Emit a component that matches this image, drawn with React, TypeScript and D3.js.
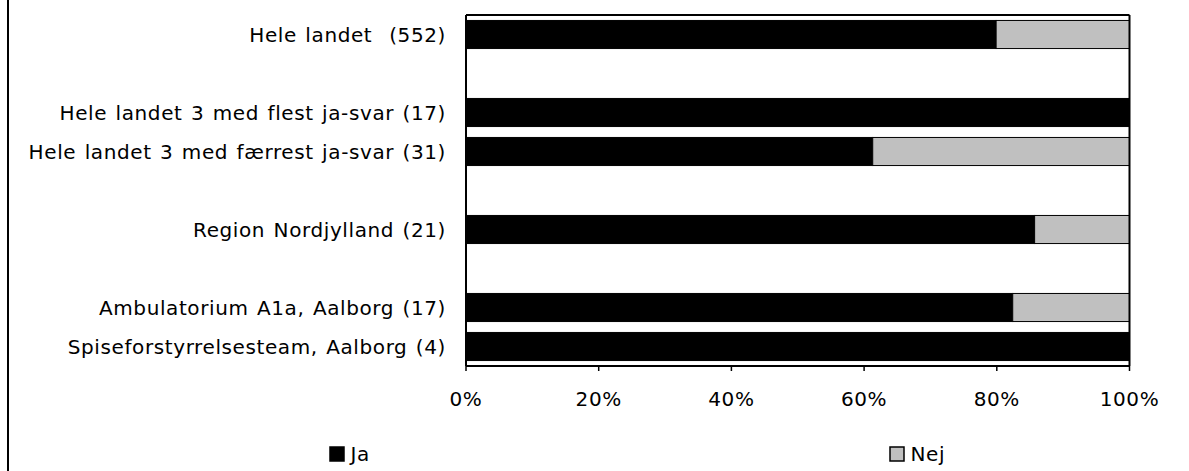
import React from "react";
import * as d3 from "d3";

const categories = [
  "Hele landet  (552)",
  "",
  "Hele landet 3 med flest ja-svar (17)",
  "Hele landet 3 med færrest ja-svar (31)",
  "",
  "Region Nordjylland (21)",
  "",
  "Ambulatorium A1a, Aalborg (17)",
  "Spiseforstyrrelsesteam, Aalborg (4)",
];
const jaValues: (number | null)[] = [0.799, null, 1.0, 0.613, null, 0.857, null, 0.824, 1.0];
const nejValues: (number | null)[] = [0.201, null, 0.0, 0.387, null, 0.143, null, 0.176, 0.0];
const ticks = [0, 0.2, 0.4, 0.6, 0.8, 1.0];
const tickLabels = ["0%", "20%", "40%", "60%", "80%", "100%"];
const seriesNames = ["Ja", "Nej"];
const seriesColors = ["#000000", "#C0C0C0"];

const W = 1189;
const H = 471;
const font = "'DejaVu Sans', Verdana, sans-serif";
const FS = 20;
const textStyle: React.CSSProperties = { whiteSpace: "pre", letterSpacing: "0.6px", wordSpacing: "1.5px" };

export default function App() {
  const left = 466;
  const right = 1129.5;
  const top = 15;
  const bottom = 366;
  const x = d3.scaleLinear().domain([0, 1]).range([left, right]);
  const y = d3
    .scaleBand<number>()
    .domain(d3.range(categories.length))
    .range([top, bottom])
    .paddingInner(0.28)
    .paddingOuter(0.14);

  const rows = categories.map((c, i) => ({ c, i, ja: jaValues[i], nej: nejValues[i] }));

  return (
    <svg
      width={W}
      height={H}
      style={{ position: "absolute", left: 0, top: 0, background: "#fff" }}
      fontFamily={font}
    >
      <line x1={8} x2={8} y1={0} y2={H} stroke="#000" strokeWidth={2} />
      {rows.map((r) =>
        r.ja === null ? null : (
          <g key={r.i}>
            <rect
              x={x(0)}
              y={y(r.i)!}
              width={x(r.ja) - x(0)}
              height={y.bandwidth()}
              fill={seriesColors[0]}
              stroke="#000"
              strokeWidth={1}
            />
            {r.nej! > 0 && (
              <rect
                x={x(r.ja)}
                y={y(r.i)!}
                width={x(r.ja + r.nej!) - x(r.ja)}
                height={y.bandwidth()}
                fill={seriesColors[1]}
                stroke="#000"
                strokeWidth={1}
              />
            )}
          </g>
        )
      )}
      <line x1={left} x2={right} y1={top} y2={top} stroke="#000" strokeWidth={2} />
      <line x1={right} x2={right} y1={top} y2={bottom} stroke="#000" strokeWidth={2} />
      <line x1={left} x2={left} y1={top} y2={bottom} stroke="#000" strokeWidth={2} />
      <line x1={left} x2={right} y1={bottom} y2={bottom} stroke="#000" strokeWidth={2} />
      {ticks.map((t, i) => (
        <g key={i}>
          <line x1={x(t)} x2={x(t)} y1={bottom} y2={bottom + 5} stroke="#000" strokeWidth={1.5} />
          <text x={x(t)} y={406} textAnchor="middle" fontSize={FS} fill="#000" style={textStyle}>
            {tickLabels[i]}
          </text>
        </g>
      ))}
      {rows.map((r) =>
        r.c ? (
          <text
            key={"l" + r.i}
            x={446}
            y={y(r.i)! + y.bandwidth() / 2}
            dy="0.35em"
            textAnchor="end"
            fontSize={FS}
            fill="#000"
            style={textStyle}
          >
            {r.c}
          </text>
        ) : null
      )}
      {seriesNames.map((s, i) => {
        const lx = i === 0 ? 330 : 890;
        return (
          <g key={s}>
            <rect x={lx} y={447} width={14} height={14} fill={seriesColors[i]} stroke="#000" strokeWidth={1.5} />
            <text x={lx + 20.5} y={461} fontSize={FS} fill="#000" style={textStyle}>
              {s}
            </text>
          </g>
        );
      })}
    </svg>
  );
}
